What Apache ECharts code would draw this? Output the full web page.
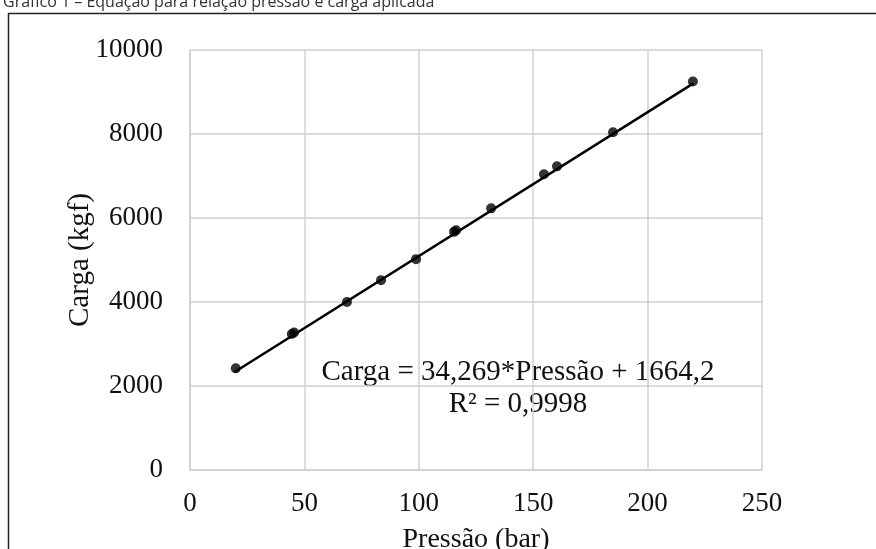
<!DOCTYPE html>
<html><head><meta charset="utf-8">
<script src="https://cdn.jsdelivr.net/npm/echarts@6/dist/echarts.min.js"></script>
<style>html,body{margin:0;padding:0;background:#fff;}#c{width:876px;height:549px;}</style>
</head><body><div id="c"></div>
<script>
const pressao = [20, 44.5, 45.5, 68.6, 83.5, 98.8, 115.4, 116.3, 131.6, 154.7, 160.4, 184.9, 219.8];
const carga = [2420, 3240, 3275, 4000, 4520, 5020, 5670, 5710, 6230, 7040, 7230, 8040, 9250];
const trendX = [19.5, 220];
const trendY = [2332, 9204];
const xTicks = [0, 50, 100, 150, 200, 250];
const yTicks = [0, 2000, 4000, 6000, 8000, 10000];
const titleText = 'Gráfico 1 – Equação para relação pressão e carga aplicada';
const eqText = 'Carga = 34,269*Pressão + 1664,2';
const r2Text = 'R² = 0,9998';

const chart = echarts.init(document.getElementById('c'), null, {renderer: 'canvas'});
const serif = 'Liberation Serif';
chart.setOption({
  animation: false,
  backgroundColor: '#fff',
  grid: {left: 190, right: 114, top: 50, bottom: 79, containLabel: false, outerBoundsMode: 'none'},
  xAxis: {
    type: 'value', min: xTicks[0], max: xTicks[xTicks.length-1], interval: 50,
    name: 'Pressão (bar)', nameLocation: 'middle', nameGap: 56, nameMoveOverlap: false,
    nameTextStyle: {fontFamily: serif, fontSize: 28, color: '#111'},
    axisLine: {show: true, lineStyle: {color: '#d0d0d0', width: 1.5}},
    axisTick: {show: false},
    axisLabel: {fontFamily: serif, fontSize: 27, color: '#111', margin: 20, formatter: v => String(v)},
    splitLine: {show: true, lineStyle: {color: '#d0d0d0', width: 1.5}}
  },
  yAxis: {
    type: 'value', min: yTicks[0], max: yTicks[yTicks.length-1], interval: 2000,
    name: 'Carga (kgf)', nameLocation: 'middle', nameGap: 95, nameMoveOverlap: false,
    nameTextStyle: {fontFamily: serif, fontSize: 29, color: '#111'},
    axisLine: {show: true, lineStyle: {color: '#d0d0d0', width: 1.5}},
    axisTick: {show: false},
    axisLabel: {fontFamily: serif, fontSize: 27, color: '#111', margin: 27, formatter: v => String(v)},
    splitLine: {show: true, lineStyle: {color: '#d0d0d0', width: 1.5}}
  },
  series: [
    {type: 'line', data: trendX.map((x,i)=>[x, trendY[i]]), symbol: 'none',
     lineStyle: {color: '#000', width: 2.5}, z: 2},
    {type: 'scatter', data: pressao.map((x,i)=>[x, carga[i]]), symbol: 'circle', symbolSize: 10,
     itemStyle: {color: '#000'}, z: 3}
  ],
  graphic: [
    {type: 'rect', shape: {x: 8.5, y: 13.5, width: 900, height: 600},
     style: {fill: 'none', stroke: '#222', lineWidth: 1.5}},
    {type: 'text', x: 3, y: -6, style: {text: titleText, textVerticalAlign: 'top',
      font: '16px "Open Sans"', fill: '#333'}},
    {type: 'text', style: {text: eqText, x: 518, y: 372, textAlign: 'center', textVerticalAlign: 'middle',
      font: '29px "Liberation Serif"', fill: '#111'}},
    {type: 'text', style: {text: r2Text, x: 518, y: 404, textAlign: 'center', textVerticalAlign: 'middle',
      font: '29px "Liberation Serif"', fill: '#111'}}
  ]
});
</script></body></html>
